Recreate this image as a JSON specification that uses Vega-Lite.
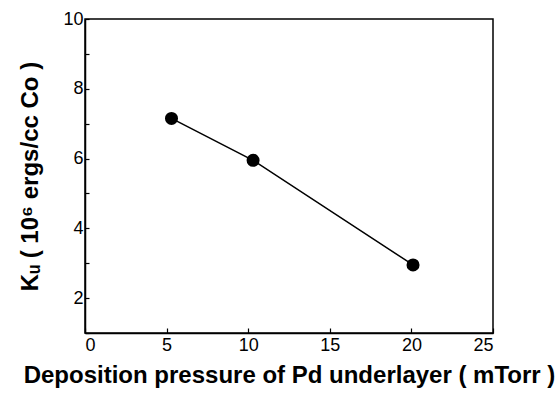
{
  "$schema": "https://vega.github.io/schema/vega-lite/v6.json",
  "width": 408,
  "height": 314,
  "autosize": {"type": "none"},
  "padding": {"left": 85, "top": 19, "right": 66, "bottom": 70},
  "background": "white",
  "config": {
    "view": {"stroke": "black", "strokeWidth": 1.5},
    "axis": {
      "domainColor": "black", "domainWidth": 1.5, "tickColor": "black", "tickWidth": 1.2,
      "labelColor": "black", "titleColor": "black", "grid": false,
      "labelFont": "Liberation Sans", "titleFont": "Liberation Sans",
      "labelFontSize": 18, "titleFontSize": 24, "titleFontWeight": "bold"
    }
  },
  "data": {"values": [
    {"p": 5.3, "ku": 7.15},
    {"p": 10.3, "ku": 5.95},
    {"p": 20.1, "ku": 2.95}
  ]},
  "encoding": {
    "x": {"field": "p", "type": "quantitative",
      "scale": {"domain": [0, 25], "nice": false, "zero": false},
      "axis": {"values": [0, 5, 10, 15, 20, 25], "tickSize": -5, "labelPadding": 8,
        "title": "Deposition pressure of Pd underlayer ( mTorr )", "titlePadding": 9}},
    "y": {"field": "ku", "type": "quantitative",
      "scale": {"domain": [1, 10], "nice": false, "zero": false},
      "axis": {"values": [1, 2, 3, 4, 5, 6, 7, 8, 9, 10], "tickSize": -4, "labelPadding": 6,
        "labelExpr": "datum.value % 2 == 0 ? datum.label : ''",
        "title": "Kᵤ ( 10⁶ ergs/cc Co )", "titlePadding": 20}}
  },
  "layer": [
    {"mark": {"type": "line", "color": "black", "strokeWidth": 1.5}},
    {"mark": {"type": "point", "filled": true, "color": "black", "size": 170, "opacity": 1}}
  ]
}
